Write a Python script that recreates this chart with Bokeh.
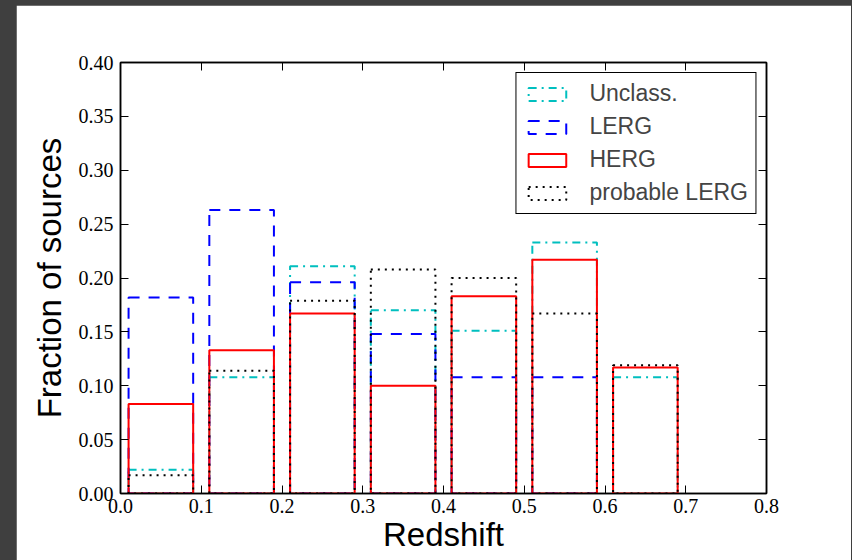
from bokeh.plotting import figure
from bokeh.layouts import column
from bokeh.models import (ColumnDataSource, Legend, LegendItem, LinearAxis,
                          FixedTicker, NumeralTickFormatter, Range1d)
from bokeh.embed import file_html
from bokeh.resources import INLINE

# ---- data ----
bin_lo = [0.01, 0.11, 0.21, 0.31, 0.41, 0.51, 0.61]
bin_hi = [0.09, 0.19, 0.29, 0.39, 0.49, 0.59, 0.69]
unclass = [0.022, 0.108, 0.211, 0.170, 0.151, 0.233, 0.108]
lerg = [0.182, 0.263, 0.196, 0.148, 0.108, 0.108, 0.0]
herg = [0.083, 0.133, 0.167, 0.100, 0.183, 0.217, 0.117]
prob_lerg = [0.017, 0.114, 0.179, 0.208, 0.200, 0.167, 0.119]
series_names = ["Unclass.", "LERG", "HERG", "probable LERG"]
x_ticks = [0.0, 0.1, 0.2, 0.3, 0.4, 0.5, 0.6, 0.7, 0.8]
y_ticks = [0.0, 0.05, 0.10, 0.15, 0.20, 0.25, 0.30, 0.35, 0.40]

p = figure(width=835, height=555, x_range=Range1d(0, 0.8), y_range=Range1d(0, 0.4),
           output_backend="svg", toolbar_location=None,
           min_border_left=104, min_border_right=85, min_border_top=57, min_border_bottom=67)
p.margin = (5, 1, 0, 16)
p.xgrid.visible = False
p.ygrid.visible = False
p.border_fill_color = "white"
p.background_fill_color = "white"
p.outline_line_color = "black"
p.outline_line_width = 1.5
p.outline_line_alpha = 1.0

styles = [
    (unclass, "#00BFBF", "8 5 2 5"),
    (lerg, "#0000FF", "11 9"),
    (herg, "#FF0000", "solid"),
    (prob_lerg, "black", "2 5"),
]
items = []
for name, (vals, col, dash) in zip(series_names, styles):
    keep = [i for i, v in enumerate(vals) if v > 0]
    src = ColumnDataSource(dict(left=[bin_lo[i] for i in keep],
                                right=[bin_hi[i] for i in keep],
                                top=[vals[i] for i in keep],
                                bottom=[0.0 for i in keep]))
    r = p.quad(left="left", right="right", top="top", bottom="bottom", source=src,
               fill_color=None, line_color=col, line_width=2, line_dash=dash)
    items.append(LegendItem(label=name, renderers=[r]))

legend = Legend(items=items, location="top_right", margin=10, padding=7, spacing=6,
                label_height=24, glyph_height=16, glyph_width=47, label_standoff=19,
                label_text_font="Liberation Sans", label_text_font_size="23px",
                border_line_color="black", border_line_width=1.5, border_line_alpha=1.0,
                background_fill_color="white", background_fill_alpha=1.0)
p.add_layout(legend)

def style_axis(ax):
    ax.axis_line_color = "black"
    ax.axis_line_width = 1.5
    ax.major_tick_in = 8
    ax.major_tick_out = 0
    ax.minor_tick_in = 0
    ax.minor_tick_out = 0
    ax.major_tick_line_color = "black"
    ax.major_tick_line_width = 1
    ax.major_label_text_font = "Liberation Serif"
    ax.major_label_text_font_size = "20px"
    ax.major_label_text_color = "black"

p.xaxis.ticker = FixedTicker(ticks=x_ticks)
p.yaxis.ticker = FixedTicker(ticks=y_ticks)
p.xaxis.formatter = NumeralTickFormatter(format="0.0")
p.yaxis.formatter = NumeralTickFormatter(format="0.00")
for ax in (p.xaxis[0], p.yaxis[0]):
    style_axis(ax)
    ax.axis_label_text_font = "Liberation Sans"
    ax.axis_label_text_font_size = "33px"
    ax.axis_label_text_font_style = "normal"
    ax.axis_label_text_color = "black"
p.xaxis.axis_label = "Redshift"
p.yaxis.axis_label = "Fraction of sources"
p.xaxis.major_label_standoff = 5
p.xaxis.axis_label_standoff = 0
p.yaxis.major_label_standoff = 7
p.yaxis.axis_label_standoff = 8

top_ax = LinearAxis(ticker=FixedTicker(ticks=x_ticks),
                    major_label_overrides={t: "" for t in x_ticks})
right_ax = LinearAxis(ticker=FixedTicker(ticks=y_ticks),
                      major_label_overrides={t: "" for t in y_ticks})
for ax in (top_ax, right_ax):
    style_axis(ax)
    ax.major_label_standoff = 0
p.add_layout(top_ax, "above")
p.add_layout(right_ax, "right")

page = column(p, styles={"background-color": "#3f3f3f"})
open("out.html", "w").write(file_html(page, INLINE))
